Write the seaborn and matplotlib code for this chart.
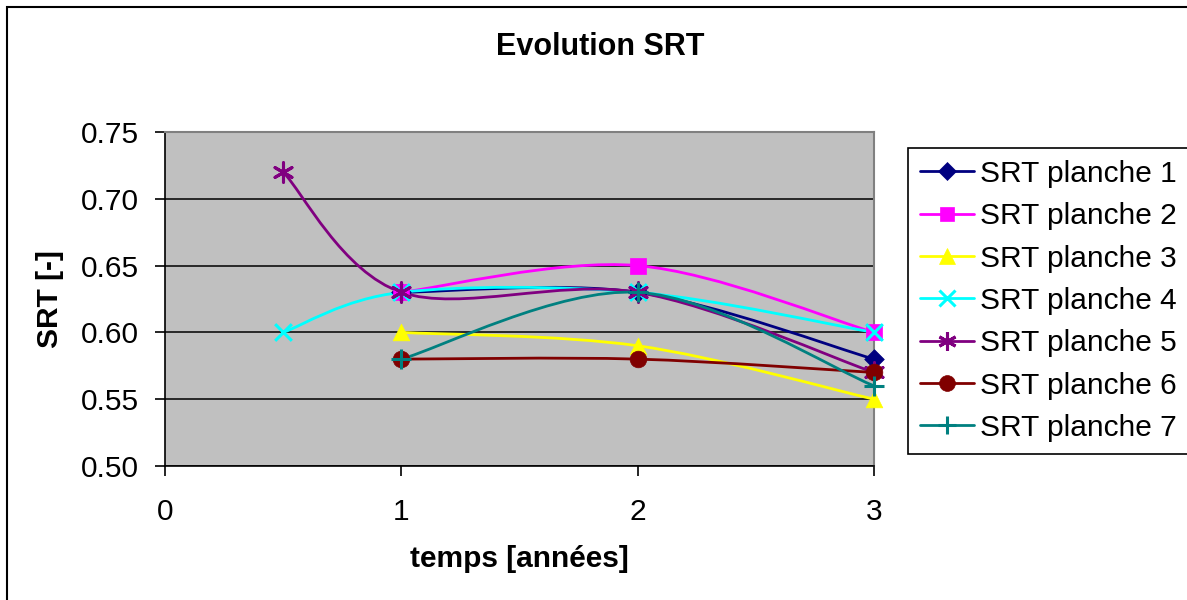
import numpy as np
import pandas as pd
import seaborn as sns
import matplotlib.pyplot as plt
from matplotlib.path import Path
from matplotlib.patches import PathPatch, Rectangle
from matplotlib.lines import Line2D


# values
temps_p1 = [1, 2, 3]
srt_p1 = [0.63, 0.63, 0.58]
temps_p2 = [1, 2, 3]
srt_p2 = [0.63, 0.65, 0.60]
temps_p3 = [1, 2, 3]
srt_p3 = [0.60, 0.59, 0.55]
temps_p4 = [0.5, 1, 2, 3]
srt_p4 = [0.60, 0.63, 0.63, 0.60]
temps_p5 = [0.5, 1, 2, 3]
srt_p5 = [0.72, 0.63, 0.63, 0.57]
temps_p6 = [1, 2, 3]
srt_p6 = [0.58, 0.58, 0.57]
temps_p7 = [1, 2, 3]
srt_p7 = [0.58, 0.63, 0.56]

labels = ['SRT planche %d' % i for i in range(1, 8)]
colors = ['#000080', '#FF00FF', '#FFFF00', '#00FFFF', '#800080', '#800000', '#008080']
markers = ['D', 's', '^', 'x', (6, 2, 0), 'o', '+']
msizes = [10, 11, 12, 12, 14, 12, 14]
line_art = [False, False, False, True, True, False, True]

series = [(temps_p1, srt_p1), (temps_p2, srt_p2), (temps_p3, srt_p3),
          (temps_p4, srt_p4), (temps_p5, srt_p5), (temps_p6, srt_p6),
          (temps_p7, srt_p7)]


def smooth_path(xs, ys):
    # excel-like smoothed line: cubic bezier through the points (catmull-rom)
    pts = np.column_stack([xs, ys]).astype(float)
    n = len(pts)
    verts = [pts[0]]
    codes = [Path.MOVETO]
    for i in range(n - 1):
        p0 = pts[i - 1] if i > 0 else pts[i]
        p1 = pts[i]
        p2 = pts[i + 1]
        p3 = pts[i + 2] if i + 2 < n else pts[i + 1]
        verts += [p1 + (p2 - p0) / 6, p2 - (p3 - p1) / 6, p2]
        codes += [Path.CURVE4] * 3
    return Path(verts, codes)


sns.set_style('white')
plt.rcParams['font.family'] = ['Liberation Sans', 'DejaVu Sans']
plt.rcParams['text.color'] = '#000000'
plt.rcParams['axes.labelcolor'] = '#000000'
plt.rcParams['xtick.color'] = '#000000'
plt.rcParams['ytick.color'] = '#000000'

fig = plt.figure(figsize=(11.87, 6), dpi=100)
ax = fig.add_axes([165 / 1187, 1 - 466 / 600, (874 - 165) / 1187, (466 - 132) / 600])
ax.set_facecolor('#C0C0C0')

for i, (xs, ys) in enumerate(series):
    ax.add_patch(PathPatch(smooth_path(xs, ys), facecolor='none', edgecolor=colors[i],
                           lw=2.0, zorder=3 + i * 0.1))

for i, (xs, ys) in enumerate(series):
    df = pd.DataFrame({'temps': xs, 'SRT': ys})
    if line_art[i]:
        sns.scatterplot(data=df, x='temps', y='SRT', marker=markers[i], color=colors[i],
                        s=msizes[i] ** 2, linewidth=2.2, ax=ax, zorder=5 + i * 0.1)
    else:
        sns.scatterplot(data=df, x='temps', y='SRT', marker=markers[i], color=colors[i],
                        edgecolor=colors[i], s=msizes[i] ** 2, linewidth=0.5,
                        ax=ax, zorder=5 + i * 0.1)
for coll in ax.collections:
    coll.set_clip_on(False)

ax.set_xlim(0, 3)
ax.set_ylim(0.5, 0.75)
ax.set_xticks([0, 1, 2, 3])
yt = np.arange(0.5, 0.751, 0.05)
ax.set_yticks(yt)
ax.set_yticklabels(['%.2f' % v for v in yt])
ax.yaxis.grid(True, color='#000000', lw=1.1)
ax.set_axisbelow(True)
ax.tick_params(axis='both', labelsize=21.5, direction='out', length=7, width=1.2,
               color='#000000', left=True, bottom=True)
ax.tick_params(axis='x', pad=16)
ax.tick_params(axis='y', pad=12)
for side in ['left', 'bottom']:
    ax.spines[side].set_color('#000000')
    ax.spines[side].set_linewidth(1.2)
for side in ['top', 'right']:
    ax.spines[side].set_color('#808080')
    ax.spines[side].set_linewidth(1.5)

ax.set_xlabel('temps [années]', fontsize=21.5, fontweight='bold', labelpad=14)
ax.set_ylabel('SRT [-]', fontsize=21.5, fontweight='bold', labelpad=12)
fig.text(600 / 1187, 1 - 47 / 600, 'Evolution SRT', fontsize=22, fontweight='bold',
         ha='center', va='center')

handles = [Line2D([], [], color=colors[i], lw=2.0, marker=markers[i],
                  markersize=msizes[i] * 0.95, markeredgewidth=2.2 if line_art[i] else 0.5,
                  markeredgecolor=colors[i]) for i in range(7)]
leg = ax.legend(handles, labels, loc='upper left', bbox_to_anchor=(908 / 1187, 1 - 148 / 600),
                bbox_transform=fig.transFigure, borderaxespad=0, fontsize=21.5,
                frameon=True, fancybox=False, framealpha=1, edgecolor='#000000',
                handlelength=1.8, handletextpad=0.2, labelspacing=0.48, borderpad=0.4)
leg.get_frame().set_linewidth(1.2)

# outer chart border
fig.patches.append(Rectangle((7 / 1187, -0.05), 1.1, 1 - 7 / 600 + 0.05, transform=fig.transFigure,
                             fill=False, edgecolor='#000000', lw=1.5))

fig.savefig('out.png', dpi=100)
